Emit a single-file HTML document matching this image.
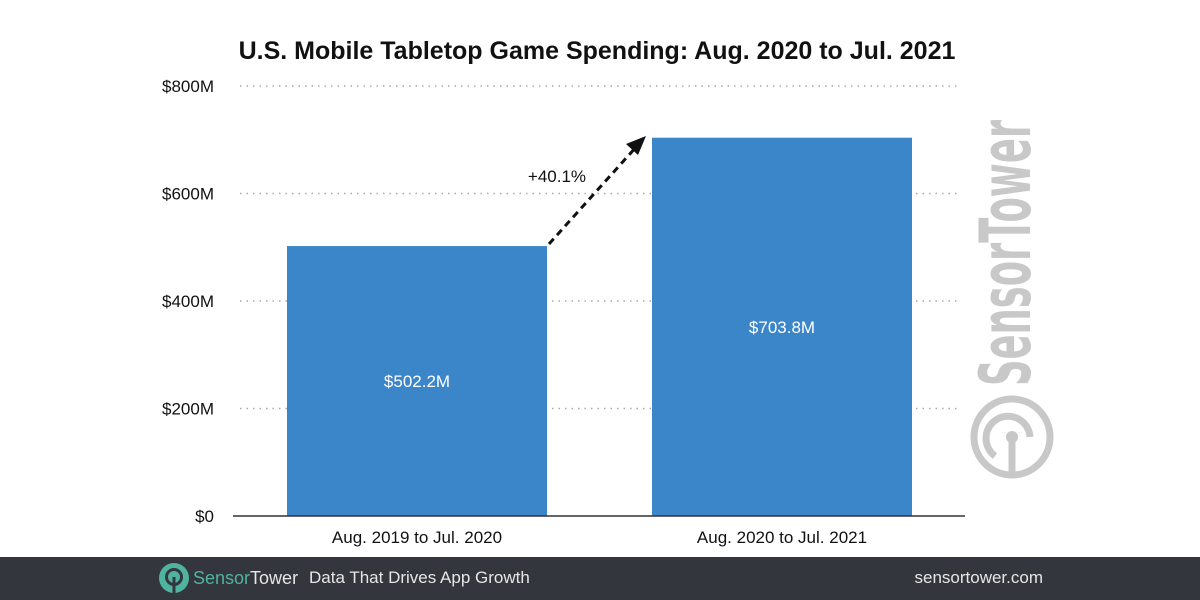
<!DOCTYPE html>
<html><head><meta charset="utf-8"><style>
body{margin:0;width:1200px;height:600px;background:#fff;overflow:hidden;font-family:"Liberation Sans",sans-serif;position:relative}
</style></head><body>
<svg width="1200" height="600" style="position:absolute;left:0;top:0">
<text x="597" y="59" text-anchor="middle" font-size="25" font-weight="bold" fill="#111">U.S. Mobile Tabletop Game Spending: Aug. 2020 to Jul. 2021</text>
<g fill="#c8c8c8">
<text transform="translate(1030,386) rotate(-90)" font-size="70" font-weight="bold" textLength="266" lengthAdjust="spacingAndGlyphs" font-family="DejaVu Sans, sans-serif" fill="#c8c8c8">SensorTower</text>
<circle cx="1012" cy="437" r="38" fill="none" stroke="#c8c8c8" stroke-width="7"/>
<path d="M995 456 A22 22 0 1 1 1030 437" fill="none" stroke="#c8c8c8" stroke-width="7"/>
<line x1="1012" y1="437" x2="1012" y2="478" stroke="#c8c8c8" stroke-width="7"/>
<circle cx="1012" cy="437" r="6"/>
</g>
<g id="grid"></g><g id="bars"></g>
<line x1="233" y1="516" x2="965" y2="516" stroke="#333" stroke-width="1.5"/>
<g>
<line x1="549" y1="244" x2="637" y2="146" stroke="#111" stroke-width="3" stroke-dasharray="7,5"/>
<polygon points="646,136 626,144 638,155" fill="#111"/>
<text x="557" y="182" text-anchor="middle" font-size="17" fill="#111">+40.1%</text>
</g>
</svg>
<div style="position:absolute;left:0;top:557px;width:1200px;height:43px;background:#33363d">
<svg width="32" height="32" style="position:absolute;left:158px;top:5px"><circle cx="16" cy="16" r="15" fill="#4fb3a0"/><circle cx="16" cy="15" r="7.5" fill="none" stroke="#33363d" stroke-width="3"/><rect x="14.5" y="15" width="3" height="16" fill="#33363d"/></svg>
<div style="position:absolute;left:193px;top:11px;font-size:18px;font-family:'Liberation Sans',sans-serif"><span style="color:#4fb3a0">Sensor</span><span style="color:#e6e6e6">Tower</span></div>
<div style="position:absolute;left:309px;top:11px;font-size:17px;color:#e6e6e6">Data That Drives App Growth</div>
<div style="position:absolute;right:157px;top:11px;font-size:17px;color:#e6e6e6">sensortower.com</div>
</div>
<script>
const categories=["Aug. 2019 to Jul. 2020","Aug. 2020 to Jul. 2021"];
const values=[502.2,703.8];
const valueLabels=["$502.2M","$703.8M"];
const ticks=[0,200,400,600,800];
const tickLabels=["$0","$200M","$400M","$600M","$800M"];
const ns="http://www.w3.org/2000/svg";
const y=v=>516-v*0.5375;
const xc=i=>417+i*365;
const g=document.getElementById('grid'),b=document.getElementById('bars');
function mk(tag,at,p){const e=document.createElementNS(ns,tag);for(const k in at)e.setAttribute(k,at[k]);p.appendChild(e);return e;}
ticks.forEach((t,i)=>{
 if(t>0){const l=mk('line',{x1:240,x2:960,y1:y(t),y2:y(t),stroke:'#aaa','stroke-width':1.5,'stroke-dasharray':'1.5,5'},g);
 
 }
 const tx=mk('text',{x:214,y:y(t)+6,'text-anchor':'end','font-size':17,fill:'#111'},g);
 tx.textContent=tickLabels[i];
 
 
});
values.forEach((v,i)=>{
 const r=mk('rect',{x:xc(i)-130,y:y(v),width:260,height:516-y(v),fill:'#3a86c8'},b);
 
 
 const t=mk('text',{x:xc(i),y:(y(v)+516)/2+6,'text-anchor':'middle','font-size':17,fill:'#fff'},b);
 t.textContent=valueLabels[i];
 
 
 const c=mk('text',{x:xc(i),y:543,'text-anchor':'middle','font-size':17,fill:'#111'},b);
 c.textContent=categories[i];
 
 
});
</script>
</body></html>
